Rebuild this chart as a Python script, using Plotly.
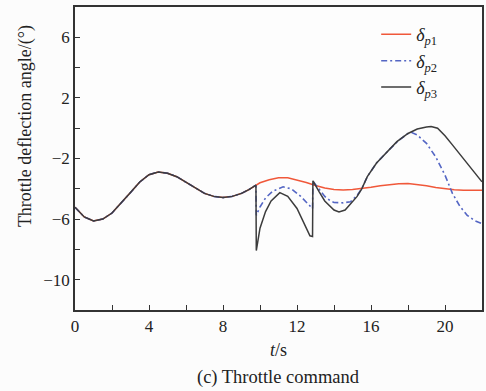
import plotly.graph_objects as go

# common part (all three commands coincide up to the first switch)
t_common = [0, 0.5, 1.0, 1.5, 2.0, 2.5, 3.0, 3.5, 4.0, 4.5, 5.0, 5.5, 6.0, 6.5, 7.0, 7.5, 8.0, 8.5, 9.0, 9.4, 9.78]
y_common = [-5.22, -5.86, -6.12, -6.0, -5.6, -4.95, -4.25, -3.55, -3.07, -2.89, -2.97, -3.2, -3.55, -3.95, -4.3, -4.5, -4.58, -4.5, -4.3, -4.05, -3.76]

t_p1 = [10.0, 10.5, 11.0, 11.5, 12.0, 12.5, 13.0, 13.5, 14.0, 14.5, 15.0, 15.5, 16.0, 16.5, 17.0, 17.5, 18.0, 18.5, 19.0, 19.5, 20.0, 20.5, 21.0, 21.5, 22.0]
y_p1 = [-3.6, -3.4, -3.27, -3.27, -3.4, -3.58, -3.78, -3.95, -4.05, -4.08, -4.05, -4.0, -3.9, -3.8, -3.72, -3.66, -3.65, -3.7, -3.8, -3.92, -4.02, -4.07, -4.1, -4.1, -4.1]

t_p2 = [9.8, 10.0, 10.3, 10.7, 11.25, 11.7, 12.2, 12.6, 12.84, 12.86, 13.2, 13.5, 13.8, 14.0, 14.5, 14.9, 15.25, 15.5, 15.8, 16.3, 17.0, 17.5, 18.0, 18.2, 18.5, 19.0, 19.5, 20.0, 20.4, 20.8, 21.2, 21.6, 22.0]
y_p2 = [-5.75, -5.2, -4.6, -4.15, -3.87, -4.0, -4.5, -5.05, -5.31, -3.5, -4.0, -4.5, -4.8, -4.9, -4.93, -4.85, -4.43, -4.0, -3.2, -2.3, -1.4, -0.8, -0.35, -0.29, -0.45, -1.0, -1.9, -3.1, -4.3, -5.15, -5.75, -6.1, -6.3]

t_p3 = [9.8, 10.0, 10.3, 10.6, 11.07, 11.5, 12.0, 12.4, 12.7, 12.84, 12.86, 13.2, 13.5, 14.0, 14.27, 14.6, 15.0, 15.25, 15.5, 15.8, 16.3, 17.0, 17.4, 18.0, 18.5, 19.0, 19.25, 19.6, 20.0, 20.4, 20.75, 21.2, 21.6, 22.0]
y_p3 = [-8.08, -6.6, -5.5, -4.8, -4.25, -4.5, -5.3, -6.3, -7.1, -7.15, -3.47, -4.2, -4.8, -5.4, -5.53, -5.4, -4.85, -4.5, -4.0, -3.2, -2.3, -1.4, -0.89, -0.35, -0.05, 0.08, 0.11, 0.0, -0.5, -1.1, -1.64, -2.3, -2.9, -3.54]

x_ticks = [0, 4, 8, 12, 16, 20]
x_minor = [2, 6, 10, 14, 18]
y_ticks = [6, 2, -2, -6, -10]
y_minor = [4, 0, -4, -8]

serif = "Liberation Serif"

fig = go.Figure()
fig.add_trace(go.Scatter(
    x=t_common + t_p1, y=y_common + y_p1, mode="lines",
    name="<i>δ</i><sub><i>p</i>1</sub>",
    line=dict(color="#f0583a", width=1.5),
))
fig.add_trace(go.Scatter(
    x=t_common + t_p2, y=y_common + y_p2, mode="lines",
    name="<i>δ</i><sub><i>p</i>2</sub>",
    line=dict(color="#5466c4", width=1.6, dash="6px,3px,2px,3px"),
))
fig.add_trace(go.Scatter(
    x=t_common + t_p3, y=y_common + y_p3, mode="lines",
    name="<i>δ</i><sub><i>p</i>3</sub>",
    line=dict(color="#3c3c3c", width=1.5),
))

axis_common = dict(
    showgrid=False, zeroline=False, showline=True, linecolor="#333", linewidth=1.5,
    mirror=True, ticks="inside", ticklen=5, tickwidth=1.2, tickcolor="#333",
    tickfont=dict(family=serif, size=17, color="#222"),
)

fig.update_layout(
    width=486, height=391,
    margin=dict(l=75, r=2, t=7, b=81),
    paper_bgcolor="#fcfcfc", plot_bgcolor="#fdfdfd",
    font=dict(family=serif, color="#222"),
    xaxis=dict(range=[0, 22], tickvals=x_ticks,
               minor=dict(ticks="inside", tickvals=x_minor, ticklen=5, tickcolor="#333"),
               title=dict(text="<i>t</i>/s", font=dict(family=serif, size=18), standoff=8),
               **axis_common),
    yaxis=dict(range=[-12, 8], tickvals=y_ticks,
               minor=dict(ticks="inside", tickvals=y_minor, ticklen=5, tickcolor="#333"),
               **axis_common),
    legend=dict(x=0.74, y=0.97, xanchor="left", yanchor="top", bgcolor="rgba(0,0,0,0)",
                font=dict(family=serif, size=18), tracegroupgap=0, itemwidth=30),
    annotations=[
        dict(text="(c) Throttle command", x=0.5, y=-0.224, xref="paper", yref="paper",
             showarrow=False, font=dict(family=serif, size=18.5, color="#222"),
             xanchor="center", yanchor="middle"),
        dict(text="Throttle deflection angle/(°)", x=-0.122, y=0.608, xref="paper", yref="paper",
             showarrow=False, textangle=-90, font=dict(family=serif, size=18, color="#222"),
             xanchor="center", yanchor="middle"),
    ],
)

fig.write_html("out.html", config={"displayModeBar": False},
               post_script="document.body.style.margin='0';")
